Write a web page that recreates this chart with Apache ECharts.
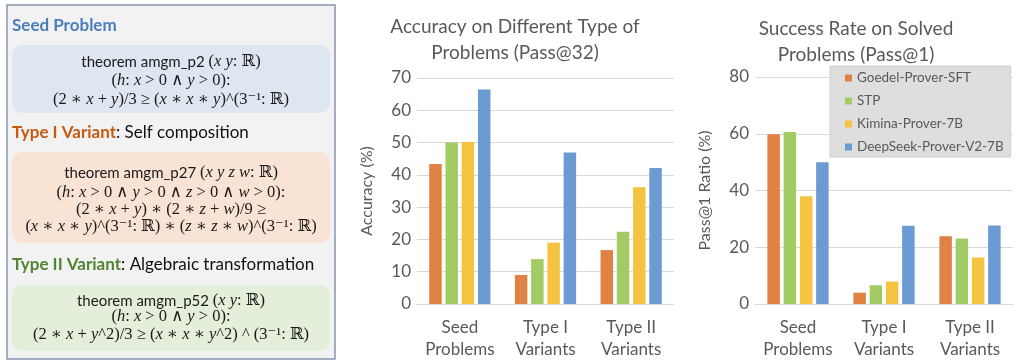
<!DOCTYPE html>
<html>
<head>
<meta charset="utf-8">
<script src="https://cdn.jsdelivr.net/npm/echarts@6/dist/echarts.min.js"></script>
<style>
html,body{margin:0;padding:0;background:#fff;}
#c{width:1024px;height:364px;}
</style>
</head>
<body>
<div id="c"></div>
<script>
var categories = ['Seed\nProblems', 'Type I\nVariants', 'Type II\nVariants'];
var seriesNames = ['Goedel-Prover-SFT', 'STP', 'Kimina-Prover-7B', 'DeepSeek-Prover-V2-7B'];
var colors = ['#DF8244', '#A2CC63', '#F5C342', '#6B9BD2'];

// Accuracy (Pass@32), %
var accGoedel   = [43.4, 9.0, 16.7];
var accSTP      = [50.0, 13.9, 22.4];
var accKimina   = [50.2, 19.0, 36.2];
var accDeepSeek = [66.4, 46.9, 42.1];

// Pass@1 ratio on solved problems, %
var passGoedel   = [59.8, 4.0, 23.9];
var passSTP      = [60.6, 6.6, 23.1];
var passKimina   = [38.0, 7.9, 16.4];
var passDeepSeek = [50.0, 27.6, 27.7];

var accData = [accGoedel, accSTP, accKimina, accDeepSeek];
var passData = [passGoedel, passSTP, passKimina, passDeepSeek];

var chart = echarts.init(document.getElementById('c'), null, {renderer: 'canvas'});

var FONT = 'Lato, "Open Sans", sans-serif';
var MATH = '"Liberation Serif", "DejaVu Serif", serif';
var TXT = '#595959';

var mathRich = {
  i: {fontFamily: MATH, fontStyle: 'italic', fontSize: 16.5, fill: '#1a1a1a'},
  s: {fontFamily: FONT, fontSize: 15, fill: '#1a1a1a'}
};

function mtext(x, y, str) {
  return {
    type: 'text', x: x, y: y,
    style: {
      text: str, align: 'center', verticalAlign: 'middle',
      fontFamily: MATH, fontSize: 16.5, fill: '#1a1a1a', rich: mathRich
    }
  };
}
function heading(y, colored, color, rest) {
  return {
    type: 'text', x: 12, y: y,
    style: {
      text: '{a|' + colored + '}' + (rest ? '{b|' + rest + '}' : ''),
      verticalAlign: 'middle',
      rich: {
        a: {fontFamily: FONT, fontSize: 17, fontWeight: 'bold', fill: color},
        b: {fontFamily: FONT, fontSize: 17, fill: '#111'}
      }
    }
  };
}

var cx = 171;
var graphics = [
  {type: 'rect', shape: {x: 7, y: 5, width: 328, height: 354}, style: {fill: '#f2f2f2', stroke: '#8597b0', lineWidth: 1.5}},
  {type: 'rect', shape: {x: 12, y: 45, width: 318, height: 68, r: 10}, style: {fill: '#dee7f1'}},
  {type: 'rect', shape: {x: 12, y: 152, width: 318, height: 91, r: 10}, style: {fill: '#f9e3d4'}},
  {type: 'rect', shape: {x: 12, y: 285, width: 318, height: 66, r: 10}, style: {fill: '#e3efda'}},
  heading(26, 'Seed Problem', '#4a7ebb', ''),
  heading(133, 'Type I Variant', '#c55a11', ': Self composition'),
  heading(265, 'Type II Variant', '#548235', ': Algebraic transformation'),
  mtext(cx, 62, '{s|theorem amgm_p2 }({i|x y}: ℝ)'),
  mtext(cx, 81, '({i|h}: {i|x} > 0 ∧ {i|y} > 0):'),
  mtext(cx, 100, '(2 ∗ {i|x} + {i|y})/3 ≥ ({i|x} ∗ {i|x} ∗ {i|y})^(3⁻¹: ℝ)'),
  mtext(cx, 173, '{s|theorem amgm_p27 }({i|x y z w}: ℝ)'),
  mtext(cx, 193, '({i|h}: {i|x} > 0 ∧ {i|y} > 0 ∧ {i|z} > 0 ∧ {i|w} > 0):'),
  mtext(cx, 210, '(2 ∗ {i|x} + {i|y}) ∗ (2 ∗ {i|z} + {i|w})/9 ≥'),
  mtext(cx, 227, '({i|x} ∗ {i|x} ∗ {i|y})^(3⁻¹: ℝ) ∗ ({i|z} ∗ {i|z} ∗ {i|w})^(3⁻¹: ℝ)'),
  mtext(cx, 301, '{s|theorem amgm_p52 }({i|x y}: ℝ)'),
  mtext(cx, 317, '({i|h}: {i|x} > 0 ∧ {i|y} > 0):'),
  mtext(cx, 335, '(2 ∗ {i|x} + {i|y}^2)/3 ≥ ({i|x} ∗ {i|x} ∗ {i|y}^2) ^ (3⁻¹: ℝ)')
];

function xAxis(gi) {
  return {
    type: 'category', gridIndex: gi, data: categories,
    axisLine: {lineStyle: {color: '#d9d9d9', width: 1}},
    axisTick: {show: false},
    axisLabel: {color: TXT, fontFamily: FONT, fontSize: 17, lineHeight: 22, margin: 13, interval: 0}
  };
}
function yAxis(gi, max, interval, name) {
  return {
    type: 'value', gridIndex: gi, min: 0, max: max, interval: interval,
    name: name, nameLocation: 'middle', nameGap: 42, nameRotate: 90,
    nameTextStyle: {color: TXT, fontFamily: FONT, fontSize: 16},
    axisLine: {show: false}, axisTick: {show: false},
    axisLabel: {color: TXT, fontFamily: FONT, fontSize: 17, margin: 6},
    splitLine: {lineStyle: {color: '#d9d9d9', width: 1}}
  };
}

var series = [];
accData.forEach(function (d, i) {
  series.push({
    name: seriesNames[i], type: 'bar', xAxisIndex: 0, yAxisIndex: 0,
    data: d, barWidth: 12.5, barGap: '30%', itemStyle: {color: colors[i]}
  });
});
passData.forEach(function (d, i) {
  series.push({
    name: seriesNames[i], type: 'bar', xAxisIndex: 1, yAxisIndex: 1,
    data: d, barWidth: 12.5, barGap: '30%', itemStyle: {color: colors[i]}
  });
});

chart.setOption({
  animation: false,
  color: colors,
  textStyle: {fontFamily: FONT},
  title: [
    {text: 'Accuracy on Different Type of\nProblems (Pass@32)', left: 515, top: 14, textAlign: 'center', padding: 0,
     textStyle: {color: TXT, fontFamily: FONT, fontSize: 19, fontWeight: 'normal', lineHeight: 26}},
    {text: 'Success Rate on Solved\nProblems (Pass@1)', left: 856, top: 16, textAlign: 'center', padding: 0,
     textStyle: {color: TXT, fontFamily: FONT, fontSize: 19, fontWeight: 'normal', lineHeight: 26}}
  ],
  legend: {
    data: seriesNames, orient: 'vertical', left: 830, top: 66,
    backgroundColor: '#dedede', borderColor: '#cfcfcf', borderWidth: 1,
    padding: [5, 7, 3, 15], itemWidth: 7, itemHeight: 7, itemGap: 9,
    icon: 'rect', selectedMode: false,
    textStyle: {color: TXT, fontFamily: FONT, fontSize: 13.5, lineHeight: 14}
  },
  grid: [
    {left: 417, right: 350, top: 78, bottom: 60},
    {left: 755, right: 11, top: 77, bottom: 60}
  ],
  xAxis: [xAxis(0), xAxis(1)],
  yAxis: [yAxis(0, 70, 10, 'Accuracy (%)'), yAxis(1, 80, 20, 'Pass@1 Ratio (%)')],
  series: series,
  graphic: graphics
});
</script>
</body>
</html>
